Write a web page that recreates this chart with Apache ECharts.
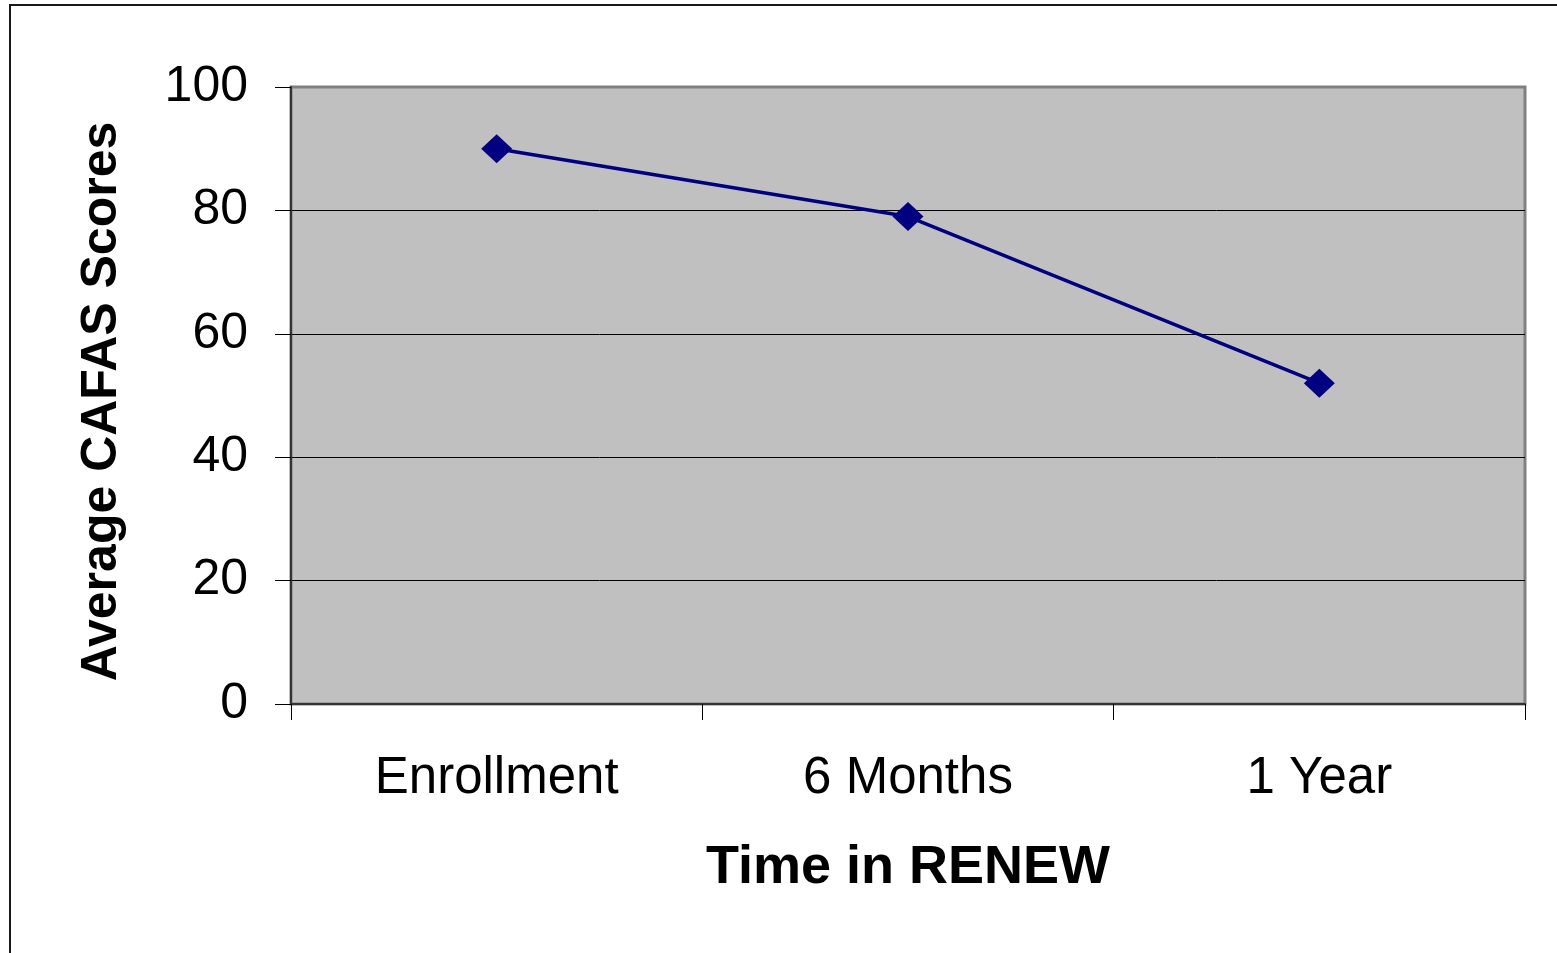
<!DOCTYPE html>
<html>
<head>
<meta charset="utf-8">
<title>Average CAFAS Scores over Time in RENEW</title>
<script src="https://cdn.jsdelivr.net/npm/echarts@6/dist/echarts.min.js"></script>
<style>
  html, body { margin: 0; padding: 0; background: #fff; }
  #chart { width: 1557px; height: 953px; }
</style>
</head>
<body>
<div id="chart"></div>
<script>
// Time points and the average CAFAS score measured at each
const categories = ['Enrollment', '6 Months', '1 Year'];
const scores = [90, 79, 52];

// Value axis range
const yMin = 0;
const yMax = 100;
const yStep = 20;

const FONT = '"Liberation Sans", Arial, Helvetica, sans-serif';

const chart = echarts.init(document.getElementById('chart'), null, { renderer: 'canvas' });

chart.setOption({
  backgroundColor: '#ffffff',
  animation: false,
  graphic: [{
    // outer chart frame (only top and left edges fall inside the page)
    type: 'rect',
    z: -10,
    silent: true,
    shape: { x: 10, y: 5, width: 1700, height: 1100 },
    style: { fill: 'transparent', stroke: '#1a1a1a', lineWidth: 2 }
  }],
  grid: {
    left: 291,
    top: 87,
    right: 32,
    bottom: 249,
    show: true,
    backgroundColor: '#c0c0c0',
    borderColor: '#808080',
    borderWidth: 3
  },
  xAxis: {
    type: 'category',
    data: categories,
    boundaryGap: true,
    name: 'Time in RENEW',
    nameLocation: 'middle',
    nameGap: 137,
    nameTextStyle: { fontFamily: FONT, fontSize: 54, fontWeight: 'bold', color: '#000' },
    axisLine: { show: true, lineStyle: { color: '#333', width: 2 } },
    axisTick: { show: true, length: 16, alignWithLabel: false, lineStyle: { color: '#000', width: 1 } },
    axisLabel: { fontFamily: FONT, fontSize: 51, color: '#000', margin: 49 },
    splitLine: { show: false }
  },
  yAxis: {
    type: 'value',
    min: yMin,
    max: yMax,
    interval: yStep,
    name: 'Average CAFAS Scores',
    nameLocation: 'middle',
    nameGap: 164,
    nameRotate: 90,
    nameTextStyle: { fontFamily: FONT, fontSize: 50, fontWeight: 'bold', color: '#000', padding: [0, 12, 0, 0] },
    axisLine: { show: true, lineStyle: { color: '#333', width: 2 } },
    axisTick: { show: true, length: 16, lineStyle: { color: '#000', width: 1 } },
    axisLabel: { fontFamily: FONT, fontSize: 50, color: '#000', margin: 43 },
    splitLine: { show: true, showMinLine: false, showMaxLine: false, lineStyle: { color: '#000', width: 1 } }
  },
  series: [{
    type: 'line',
    data: scores,
    symbol: 'diamond',
    symbolSize: [31, 29],
    lineStyle: { color: '#000080', width: 3.5 },
    itemStyle: { color: '#000080' },
    z: 5
  }]
});
</script>
</body>
</html>
